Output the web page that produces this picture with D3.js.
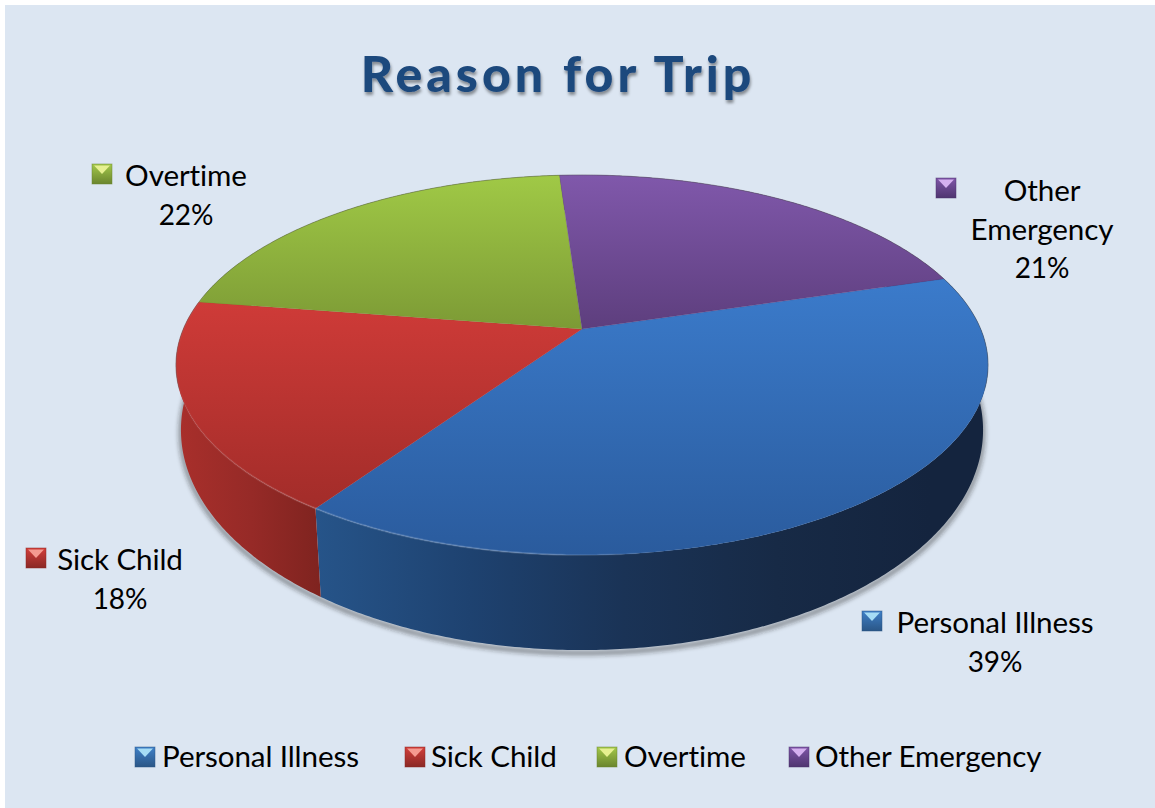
<!DOCTYPE html>
<html>
<head>
<meta charset="utf-8">
<script src="https://cdn.jsdelivr.net/npm/d3@7"></script>
<style>
  html, body { margin: 0; padding: 0; background: #fff; }
  svg { display: block; }
  text { font-family: Lato, "Open Sans", sans-serif; fill: #000; }
</style>
</head>
<body>
<div id="chart"></div>
<script>
// Reason for Trip: perspective 3D pie, drawn from d3.pie angles.
const titleText = "Reason for Trip";
const categories = ["Personal Illness", "Sick Child", "Overtime", "Other Emergency"];
const shares = [39.2, 17.9, 21.5, 21.4];          // slice sizes
const percentLabels = ["39%", "18%", "22%", "21%"]; // as printed on the chart

const topColors = [["#3b7bcb", "#2a5b9d"], ["#cf3b38", "#a22c29"], ["#a0c946", "#7c9a35"], ["#8058ab", "#5d3e7d"]];
const wallColors = [
  ["#265489", "#1e4270", "#1a3356", "#172a46", "#14243e"],
  ["#a82f2b", "#962a27", "#7e231f"],
  ["#7c9a35", "#5f7a28"],
  ["#5d3e7d", "#46305f"],
];
const markerColors = [["#3f80c8", "#2a5686", "#a5dcf5"], ["#d23f3b", "#8a2825", "#f59a90"], ["#a3c84a", "#6a852e", "#e6f090"], ["#7f56a8", "#4f3570", "#d5b0f0"]];

const width = 1155;
const height = 808;

// top rim and bottom rim of the disc, each a circle seen through a homography
const topCam = { cx: 582, cy: 329, a: 398.7, b: 183.2, p: 0.1895 };
const lowCam = { cx: 582, cy: 390.4, a: 394.5, b: 212.9, p: 0.18 };
const rotation = 73.2 * Math.PI / 180;

function project(theta, cam) {
  const u = Math.sin(theta), v = -Math.cos(theta);
  const w = 1 - cam.p * v;
  return [cam.cx + cam.a * u / w, cam.cy + cam.b * v / w];
}

function rim(a0, a1, cam) {
  const n = Math.max(2, Math.ceil((a1 - a0) / 0.01));
  return d3.range(n + 1).map(i => project(a0 + (a1 - a0) * i / n, cam));
}

const line = d3.line();
const arcs = d3.pie().sort(null).startAngle(rotation).endAngle(rotation + 2 * Math.PI)(shares);

const svg = d3.select("#chart").append("svg").attr("width", width).attr("height", height);
const defs = svg.append("defs");

function gradient(id, colors, x1, y1, x2, y2) {
  const g = defs.append("linearGradient").attr("id", id)
    .attr("gradientUnits", "userSpaceOnUse")
    .attr("x1", x1).attr("y1", y1).attr("x2", x2).attr("y2", y2);
  colors.forEach((c, i) => g.append("stop").attr("offset", i / (colors.length - 1)).attr("stop-color", c));
}

// vertical shading of the top face, horizontal bands on the wall
const faceRange = [[279, 555], [300, 510], [175, 330], [175, 330]];
const wallRange = [[317, 930], [180, 323], [180, 560], [560, 980]];
arcs.forEach((d, i) => {
  gradient("face" + i, topColors[i], 0, faceRange[i][0], 0, faceRange[i][1]);
  gradient("wall" + i, wallColors[i], wallRange[i][0], 0, wallRange[i][1], 0);
});

const soft = defs.append("filter").attr("id", "soft").attr("x", "-5%").attr("y", "-5%").attr("width", "110%").attr("height", "110%");
soft.append("feGaussianBlur").attr("stdDeviation", 2.5);
const titleShadow = defs.append("filter").attr("id", "titleShadow").attr("x", "-5%").attr("y", "-20%").attr("width", "110%").attr("height", "150%");
titleShadow.append("feDropShadow").attr("dx", 1).attr("dy", 3).attr("stdDeviation", 1.6)
  .attr("flood-color", "#000").attr("flood-opacity", 0.4);

// light catch along the front left of the rim
const rimGlow = defs.append("linearGradient").attr("id", "rimGlow")
  .attr("gradientUnits", "userSpaceOnUse").attr("x1", 170).attr("y1", 0).attr("x2", 660).attr("y2", 0);
[[0, 0.03], [0.3, 0.15], [0.72, 0.18], [1, 0]].forEach(s =>
  rimGlow.append("stop").attr("offset", s[0]).attr("stop-color", "#fff").attr("stop-opacity", s[1]));

svg.append("rect").attr("x", 5).attr("y", 5).attr("width", width - 5).attr("height", height - 5).attr("fill", "#dce6f2");

svg.append("text").attr("x", 558).attr("y", 92).attr("text-anchor", "middle")
  .attr("font-size", 50).attr("font-weight", 900).attr("letter-spacing", 4)
  .attr("filter", "url(#titleShadow)").style("fill", "#1f497d").text(titleText);

// soft shadow under the front of the disc
svg.append("path")
  .attr("d", line(rim(Math.PI * 0.42, Math.PI * 1.58, lowCam)))
  .attr("transform", "translate(0,3)")
  .attr("fill", "none").attr("stroke", "#222").attr("stroke-opacity", 0.7).attr("stroke-width", 3)
  .attr("filter", "url(#soft)");

// walls first, the top faces cover whatever is behind them
svg.append("g").selectAll("path").data(arcs).join("path")
  .attr("d", d => line(rim(d.startAngle, d.endAngle, topCam).concat(rim(d.startAngle, d.endAngle, lowCam).reverse())) + "Z")
  .attr("fill", (d, i) => `url(#wall${i})`);

svg.append("g").selectAll("path").data(arcs).join("path")
  .attr("d", d => line([[topCam.cx, topCam.cy]].concat(rim(d.startAngle, d.endAngle, topCam))) + "Z")
  .attr("fill", (d, i) => `url(#face${i})`)
  .attr("stroke", (d, i) => topColors[i][1]).attr("stroke-opacity", 0.35).attr("stroke-width", 0.6);

// grey outline round the back of the rim, light catch along the front left
svg.append("path")
  .attr("d", line(rim(-Math.PI * 0.6, Math.PI * 0.6, topCam)))
  .attr("fill", "none").attr("stroke", "#555").attr("stroke-opacity", 0.4).attr("stroke-width", 1);
svg.append("path")
  .attr("d", line(rim(Math.PI * 0.95, Math.PI * 1.56, topCam)))
  .attr("fill", "none").attr("stroke", "url(#rimGlow)").attr("stroke-width", 2);

markerColors.forEach((c, i) => {
  const g = defs.append("linearGradient").attr("id", "mark" + i).attr("x1", 0).attr("y1", 0).attr("x2", 0).attr("y2", 1);
  g.append("stop").attr("offset", 0).attr("stop-color", c[0]);
  g.append("stop").attr("offset", 1).attr("stop-color", c[1]);
});

function marker(g, x, y, size, i) {
  const c = markerColors[i];
  g.append("rect").attr("x", x).attr("y", y).attr("width", size).attr("height", size)
    .attr("fill", `url(#mark${i})`).attr("stroke", c[1]).attr("stroke-opacity", 0.6).attr("stroke-width", 0.8);
  g.append("path").attr("d", line([[x + 2, y + 1.5], [x + size - 2, y + 1.5], [x + size / 2, y + size * 0.5]]) + "Z")
    .attr("fill", c[2]);
}

// data labels
const labelFont = 29.6;
const percentFont = 28;
const labelSpots = [
  { box: [862, 611], cx: 995, base: [633, 672], lines: [categories[0]] },
  { box: [26, 548], cx: 120, base: [570, 609], lines: [categories[1]] },
  { box: [92, 164], cx: 186, base: [186, 225], lines: [categories[2]] },
  { box: [936, 178], cx: 1042, base: [201, 240, 278], lines: ["Other", "Emergency"] },
];
const labels = svg.append("g").attr("font-size", labelFont).attr("letter-spacing", -0.1);
labelSpots.forEach((s, i) => {
  marker(labels, s.box[0], s.box[1], 20, i);
  s.lines.forEach((t, j) => {
    labels.append("text").attr("x", s.cx).attr("y", s.base[j]).attr("text-anchor", "middle").text(t);
  });
  labels.append("text").attr("x", s.cx).attr("y", s.base[s.lines.length]).attr("text-anchor", "middle")
    .attr("font-size", percentFont).text(percentLabels[i]);
});

// legend
const legendBoxX = [135, 405, 597, 789];
const legendTextX = [162, 431, 624, 815];
const legend = svg.append("g").attr("font-size", labelFont).attr("letter-spacing", -0.1);
categories.forEach((c, i) => {
  marker(legend, legendBoxX[i], 747, 20, i);
  legend.append("text").attr("x", legendTextX[i]).attr("y", 767).text(c);
});
</script>
</body>
</html>
